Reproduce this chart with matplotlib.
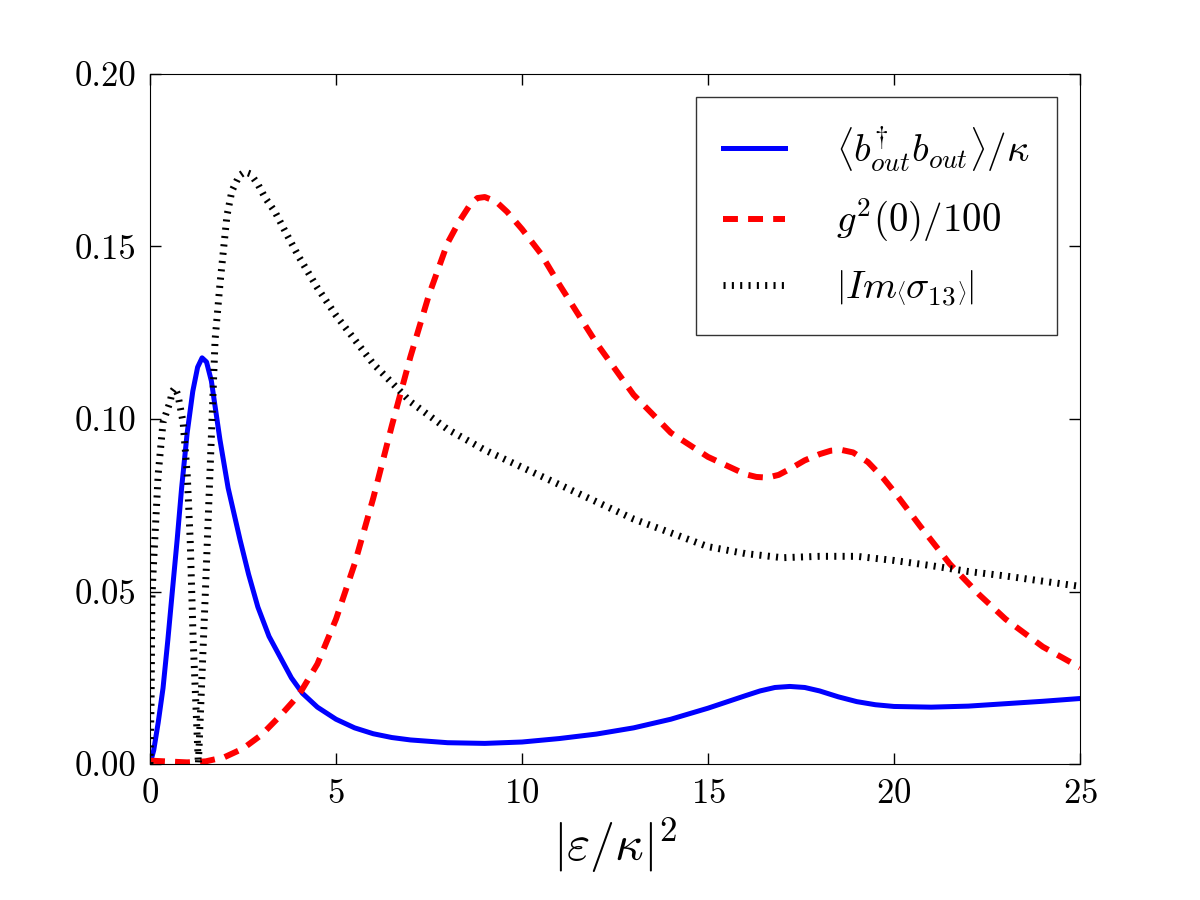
import numpy as np
import matplotlib
matplotlib.use("Agg")
import matplotlib.pyplot as plt

plt.rcParams["font.family"] = "serif"
plt.rcParams["font.serif"] = ["cmr10"]
plt.rcParams["mathtext.fontset"] = "cm"
plt.rcParams["axes.formatter.use_mathtext"] = True
plt.rcParams["xtick.direction"] = "in"
plt.rcParams["ytick.direction"] = "in"

# <b_out^dagger b_out> / kappa
x_blue = [0, 0.1, 0.22, 0.35, 0.48, 0.6, 0.73, 0.85, 1.0, 1.15, 1.28, 1.4, 1.52,
          1.65, 1.88, 2.1, 2.42, 2.65, 2.9, 3.2, 3.5, 3.8, 4.1, 4.5, 5.0, 5.5,
          6.0, 6.5, 7.0, 8.0, 9.0, 10.0, 11.0, 12.0, 13.0, 14.0, 15.0, 15.5,
          16.0, 16.4, 16.8, 17.2, 17.6, 18.0, 18.5, 19.0, 19.5, 20.0, 21.0,
          22.0, 23.0, 24.0, 25.0]
y_blue = [0.0, 0.004, 0.012, 0.022, 0.036, 0.05, 0.065, 0.08, 0.096, 0.108, 0.115,
          0.1177, 0.1165, 0.111, 0.094, 0.08, 0.065, 0.055, 0.0455, 0.037, 0.031,
          0.025, 0.0205, 0.0165, 0.013, 0.0105, 0.0088, 0.0077, 0.007, 0.0062,
          0.006, 0.0064, 0.0074, 0.0087, 0.0105, 0.013, 0.0162, 0.018, 0.0198,
          0.0212, 0.0222, 0.0225, 0.0222, 0.0212, 0.0195, 0.0181, 0.0172, 0.0167,
          0.0165, 0.0168, 0.0175, 0.0182, 0.019]

# g2(0)/100
x_red = [0, 1.0, 1.5, 2.0, 2.5, 3.0, 3.5, 4.0, 4.5, 5.0, 5.5, 6.0, 6.5, 7.0, 7.5,
         8.0, 8.3, 8.6, 8.8, 9.0, 9.3, 9.6, 10.0, 10.5, 11.0, 12.0, 13.0, 14.0,
         15.0, 15.5, 16.0, 16.3, 16.6, 16.9, 17.2, 17.6, 18.0, 18.3, 18.6, 18.9,
         19.3, 19.7, 20.0, 20.7, 21.5, 22.3, 23.0, 24.0, 25.0]
y_red = [0.001, 0.0005, 0.0008, 0.002, 0.0045, 0.0085, 0.014, 0.02, 0.029, 0.042,
         0.058, 0.077, 0.098, 0.118, 0.136, 0.151, 0.157, 0.162, 0.164, 0.1643,
         0.163, 0.16, 0.155, 0.148, 0.139, 0.122, 0.107, 0.096, 0.089, 0.0865,
         0.084, 0.0832, 0.083, 0.0838, 0.0855, 0.088, 0.0898, 0.0908, 0.091,
         0.0903, 0.0875, 0.083, 0.079, 0.069, 0.058, 0.049, 0.042, 0.034, 0.028]

# |Im <sigma_13>|
x_dot = [0, 0.03, 0.05, 0.08, 0.22, 0.35, 0.54, 0.6, 0.67, 0.75, 0.89, 1.0, 1.08,
         1.16, 1.3, 1.48, 1.75, 1.88, 2.07, 2.2, 2.4, 2.55, 2.7, 2.9, 3.1, 3.36,
         3.7, 4.0, 4.5, 5.0, 6.0, 7.0, 8.0, 9.0, 10.0, 11.0, 12.0, 13.0, 14.0,
         15.0, 16.0, 17.0, 18.0, 19.0, 20.0, 21.0, 22.0, 23.0, 24.0, 25.0]
y_dot = [0.0, 0.0185, 0.0475, 0.055, 0.084, 0.099, 0.105, 0.108, 0.109, 0.107,
         0.099, 0.084, 0.065, 0.036, 0.0, 0.0475, 0.123, 0.139, 0.159, 0.166,
         0.1705, 0.1716, 0.171, 0.168, 0.164, 0.16, 0.153, 0.147, 0.138, 0.13,
         0.116, 0.105, 0.097, 0.091, 0.086, 0.081, 0.076, 0.071, 0.067, 0.063,
         0.061, 0.0598, 0.0602, 0.0602, 0.059, 0.0575, 0.0558, 0.0545, 0.053,
         0.0515]

fig = plt.figure(figsize=(12, 9), dpi=100)
ax = fig.add_axes([0.125, 0.151, 0.775, 0.767])

ax.plot(x_blue, y_blue, color="blue", lw=3.6,
        label=r"$\left\langle b^{\dagger}_{out}b_{out}\right\rangle/\kappa$")
ax.plot(x_red, y_red, color="red", lw=4.3, dashes=(2.5, 1.7),
        label=r"$g^2(0)/100$")
ax.plot(x_dot, y_dot, color="black", lw=5, dashes=(0.3, 0.9),
        label=r"$\left|Im\left\langle\sigma_{13}\right\rangle\right|$")

ax.set_xlim(0, 25)
ax.set_ylim(0, 0.2)
ax.set_xticks([0, 5, 10, 15, 20, 25])
ax.set_yticks([0, 0.05, 0.10, 0.15, 0.20])
ax.set_yticklabels(["0.00", "0.05", "0.10", "0.15", "0.20"])
ax.tick_params(labelsize=25, top=True, right=True, length=8, width=1, pad=10)
ax.set_xlabel(r"$\left|\varepsilon/\kappa\right|^2$", fontsize=36, labelpad=4)

leg = ax.legend(loc="upper right", fontsize=28, fancybox=False, handlelength=1.6,
                borderpad=0.7, labelspacing=0.6, handletextpad=1.3,
                borderaxespad=0.6)
leg.get_frame().set_edgecolor("black")
leg.get_frame().set_linewidth(1)

fig.savefig("out.png", dpi=100)
